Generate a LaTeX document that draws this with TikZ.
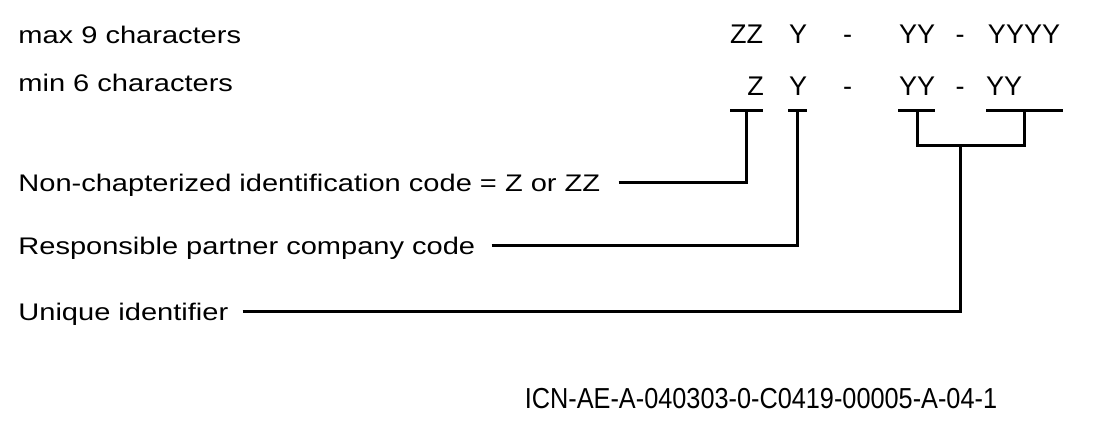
\documentclass[tikz,border=0pt]{standalone}
\usepackage{fontspec}
\setmainfont{Liberation Sans}
\newfontfamily\labelfont{Liberation Sans}[FakeStretch=1.21]
\newfontfamily\icnfont{Liberation Sans}[FakeStretch=0.875]
\usetikzlibrary{positioning}

\begin{document}
\begin{tikzpicture}[
    x=0.5pt, y=-0.5pt,
    link/.style={
        line width=1.5pt,
        line cap=butt,
        line join=miter,
    },
    caption/.style={
        font=\labelfont\fontsize{12pt}{14pt}\selectfont,
        inner sep=0pt,
        text height=8.6pt,
        text depth=0pt,
        anchor=west,
    },
    code/.style={
        font=\fontsize{13.5pt}{16pt}\selectfont,
        inner sep=0pt,
        anchor=base,
    },
    icn/.style={
        font=\icnfont\fontsize{14.45pt}{17pt}\selectfont,
        inner sep=0pt,
        anchor=base,
    }
]
    \useasboundingbox (0,0) rectangle (1098,438);

    % Lengths
    \node[caption, anchor=base west] (maxlen) at (18,44) {max 9 characters};
    \node[caption, anchor=base west] (minlen) at (18,92) {min 6 characters};

    % Code, max length
    \node[code] (zzmax) at (746.5,43.5) {ZZ};
    \node[code] (ymax) at (798,43.5) {Y};
    \node[code] (dashmaxa) at (847.5,43.5) {-};
    \node[code] (yymax) at (917,43.5) {YY};
    \node[code] (dashmaxb) at (960,43.5) {-};
    \node[code] (yyyymax) at (1024,43.5) {YYYY};

    % Code, min length
    \node[code] (zmin) at (755.5,96) {Z};
    \node[code] (ymin) at (798,96) {Y};
    \node[code] (dashmina) at (847.5,96) {-};
    \node[code] (yymin) at (917,96) {YY};
    \node[code] (dashminb) at (960,96) {-};
    \node[code] (yyminb) at (1004,96) {YY};

    % Brackets
    \coordinate (zbar) at (746.5,110.7);
    \coordinate (ybar) at (797.5,110.7);
    \coordinate (yybar) at (917,110.7);
    \coordinate (yyyybar) at (1024,110.7);
    \coordinate (join) at (960,145.7);
    \draw[link] (730,110.7) -- (763,110.7);
    \draw[link] (788,110.7) -- (807,110.7);
    \draw[link] (898,110.7) -- (935,110.7);
    \draw[link] (986,110.7) -- (1063,110.7);
    \draw[link] (yybar) |- (join) -| (yyyybar);

    % Meanings
    \node[caption] (chapter) at (18,183) {Non-chapterized identification code = Z or ZZ};
    \node[caption] (partner) at (18,245.7) {Responsible partner company code};
    \node[caption] (unique) at (18,312) {Unique identifier};

    \draw[link, shorten <=9pt] (chapter.east) -| (zbar);
    \draw[link, shorten <=8pt] (partner.east) -| (ybar);
    \draw[link, shorten <=7pt] (unique.east) -| (join);

    % Figure number
    \node[icn] (icnref) at (761,408.3) {ICN-AE-A-040303-0-C0419-00005-A-04-1};
\end{tikzpicture}
\end{document}
